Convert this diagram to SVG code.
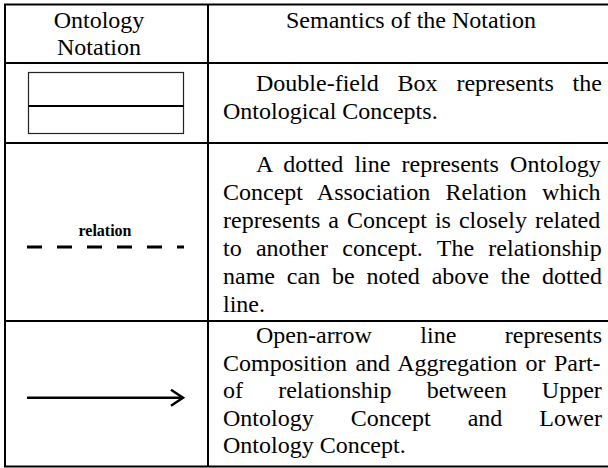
<svg xmlns="http://www.w3.org/2000/svg" width="608" height="468" viewBox="0 0 608 468">
  <style>
    .grid { stroke: #000; stroke-width: 2; fill: none; }
    .txt { font-family: "Liberation Serif", "Times New Roman", serif; font-size: 24px; fill: #000; }
    .mid { text-anchor: middle; }
    .lbl { font-family: "Liberation Serif", "Times New Roman", serif; font-size: 16px; font-weight: bold; fill: #000; text-anchor: middle; }
  </style>
  <defs>
    <marker id="openArrow" markerWidth="16" markerHeight="20" refX="13" refY="9" orient="auto" markerUnits="userSpaceOnUse">
      <path d="M1,1 L13,9 L1,17" fill="none" stroke="#000" stroke-width="2.5"/>
    </marker>
  </defs>
  <rect width="608" height="468" fill="#fff"/>

  <!-- table rules -->
  <g id="table-grid" class="grid">
    <line x1="4" y1="4.5" x2="608" y2="4.5"/>
    <line x1="4" y1="63" x2="608" y2="63"/>
    <line x1="4" y1="143" x2="608" y2="143"/>
    <line x1="4" y1="321" x2="608" y2="321"/>
    <line x1="4" y1="466.5" x2="608" y2="466.5"/>
    <line x1="5" y1="4" x2="5" y2="467"/>
    <line x1="208" y1="4" x2="208" y2="467"/>
  </g>

  <!-- header -->
  <g id="header">
    <text class="txt mid" x="99" y="27.5">Ontology</text>
    <text class="txt mid" x="99" y="55">Notation</text>
    <text class="txt mid" x="411" y="27.5">Semantics of the Notation</text>
  </g>

  <!-- concept box notation -->
  <g id="concept-box">
    <rect x="28.5" y="72.5" width="155" height="61" fill="#fff" stroke="#222" stroke-width="1.2"/>
    <line x1="28.5" y1="106" x2="183.5" y2="106" stroke="#000" stroke-width="2.2"/>
  </g>
  <g id="concept-text">
    <text class="txt" x="256" y="91" word-spacing="12.9">Double-field Box represents the</text>
    <text class="txt" x="223" y="119">Ontological Concepts.</text>
  </g>

  <!-- connectors -->
  <g id="connectors">
    <line id="association" x1="27" y1="247" x2="184" y2="247" stroke="#000" stroke-width="3" stroke-dasharray="15 15"/>
    <line id="part-of" x1="27" y1="397.8" x2="183" y2="397.8" stroke="#000" stroke-width="2.5" marker-end="url(#openArrow)"/>
  </g>

  <!-- association notation -->
  <g id="association-notation">
    <text class="lbl" x="105" y="236">relation</text>
  </g>
  <g id="association-text">
    <text class="txt" x="256" y="171.5" word-spacing="5.2">A dotted line represents Ontology</text>
    <text class="txt" x="223" y="199.6" word-spacing="9.2">Concept Association Relation which</text>
    <text class="txt" x="223" y="227.7" word-spacing="2">represents a Concept is closely related</text>
    <text class="txt" x="223" y="255.8" word-spacing="8.3">to another concept. The relationship</text>
    <text class="txt" x="223" y="283.9" word-spacing="5.85">name can be noted above the dotted</text>
    <text class="txt" x="223" y="312">line.</text>
  </g>

  <!-- part-of notation -->
  <g id="partof-text">
    <text class="txt" x="256" y="343" word-spacing="42.4">Open-arrow line represents</text>
    <text class="txt" x="223" y="370.5" word-spacing="2.4">Composition and Aggregation or Part-</text>
    <text class="txt" x="223" y="398" word-spacing="29.2">of relationship between Upper</text>
    <text class="txt" x="223" y="425.5" word-spacing="31">Ontology Concept and Lower</text>
    <text class="txt" x="223" y="453">Ontology Concept.</text>
  </g>
</svg>
